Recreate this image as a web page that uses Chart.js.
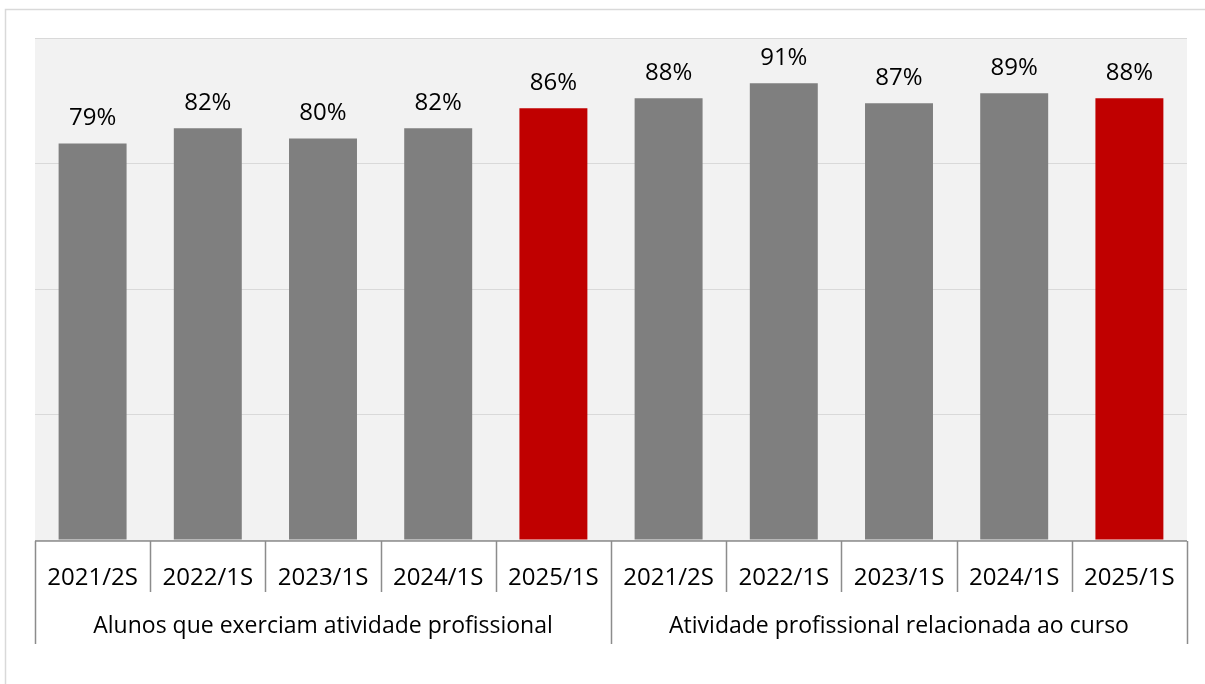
<!DOCTYPE html>
<html lang="pt">
<head>
<meta charset="UTF-8">
<title>Atividade profissional</title>
<script src="https://cdn.jsdelivr.net/npm/chart.js"></script>
<style>
    body { margin: 0; background: #fff; }
    #chart { display: block; }
</style>
</head>
<body>
<canvas id="chart" width="1205" height="684"></canvas>
<script>
// dados
const periodos = ['2021/2S', '2022/1S', '2023/1S', '2024/1S', '2025/1S',
                  '2021/2S', '2022/1S', '2023/1S', '2024/1S', '2025/1S'];
const grupos = ['Alunos que exerciam atividade profissional', 'Atividade profissional relacionada ao curso'];
const tamanhoGrupo = [5, 5];
const valores = [79, 82, 80, 82, 86, 88, 91, 87, 89, 88];
const cores = ['#7f7f7f', '#7f7f7f', '#7f7f7f', '#7f7f7f', '#c00000',
               '#7f7f7f', '#7f7f7f', '#7f7f7f', '#7f7f7f', '#c00000'];

const FONTE = '"Open Sans", "Noto Sans", sans-serif';

// fundo da área do gráfico + moldura
const fundo = {
    id: 'fundo',
    beforeDraw(chart) {
        const { ctx, chartArea: a } = chart;
        ctx.save();
        ctx.fillStyle = '#f2f2f2';
        ctx.fillRect(a.left, a.top, a.right - a.left, a.bottom - a.top);
        ctx.strokeStyle = '#d9d9d9';
        ctx.lineWidth = 1.5;
        ctx.beginPath();
        ctx.moveTo(5.5, 700);
        ctx.lineTo(5.5, 9.5);
        ctx.lineTo(1210, 9.5);
        ctx.stroke();
        ctx.restore();
    }
};

// rótulos com percentual acima das barras
const rotulos = {
    id: 'rotulos',
    afterDatasetsDraw(chart) {
        const { ctx } = chart;
        const meta = chart.getDatasetMeta(0);
        ctx.save();
        ctx.fillStyle = '#000';
        ctx.font = '24px ' + FONTE;
        ctx.textAlign = 'center';
        ctx.textBaseline = 'alphabetic';
        meta.data.forEach((bar, i) => {
            ctx.fillText(valores[i] + '%', bar.x, bar.y - 18);
        });
        ctx.restore();
    }
};

// eixo de categorias em dois níveis
const eixo = {
    id: 'eixo',
    afterDraw(chart) {
        const { ctx, chartArea: a } = chart;
        const x = chart.scales.x;
        const passo = x.getPixelForValue(1) - x.getPixelForValue(0);
        const borda = i => x.getPixelForValue(i) - passo / 2;
        const y0 = a.bottom + 1;
        ctx.save();
        ctx.strokeStyle = '#8c8c8c';
        ctx.lineWidth = 1.5;
        ctx.beginPath();
        ctx.moveTo(a.left, y0);
        ctx.lineTo(a.right, y0);
        // divisões
        let inicio = 0;
        const limites = [0];
        tamanhoGrupo.forEach(n => { inicio += n; limites.push(inicio); });
        for (let i = 0; i <= periodos.length; i++) {
            const px = Math.round(borda(i)) + 0.5;
            ctx.moveTo(px, y0);
            ctx.lineTo(px, limites.includes(i) ? 644 : 592);
        }
        ctx.stroke();

        ctx.fillStyle = '#000';
        ctx.font = '24px ' + FONTE;
        ctx.textAlign = 'center';
        periodos.forEach((p, i) => {
            ctx.fillText(p, x.getPixelForValue(i), 585);
        });
        ctx.font = '23px ' + FONTE;
        grupos.forEach((g, k) => {
            const cx = (borda(limites[k]) + borda(limites[k + 1])) / 2;
            ctx.fillText(g, cx, 633);
        });
        ctx.restore();
    }
};

new Chart(document.getElementById('chart'), {
    type: 'bar',
    data: {
        labels: periodos,
        datasets: [{
            data: valores,
            backgroundColor: cores,
            barPercentage: 1,
            categoryPercentage: 0.59
        }]
    },
    options: {
        responsive: false,
        animation: false,
        layout: { padding: { left: 35, right: 18, top: 38, bottom: 144 } },
        plugins: {
            legend: { display: false },
            tooltip: { enabled: false }
        },
        scales: {
            x: { display: false },
            y: {
                min: 0,
                max: 100,
                ticks: { display: false, stepSize: 25 },
                grid: { color: '#d9d9d9', lineWidth: 1, drawTicks: false },
                border: { display: false }
            }
        }
    },
    plugins: [fundo, rotulos, eixo]
});
</script>
</body>
</html>
